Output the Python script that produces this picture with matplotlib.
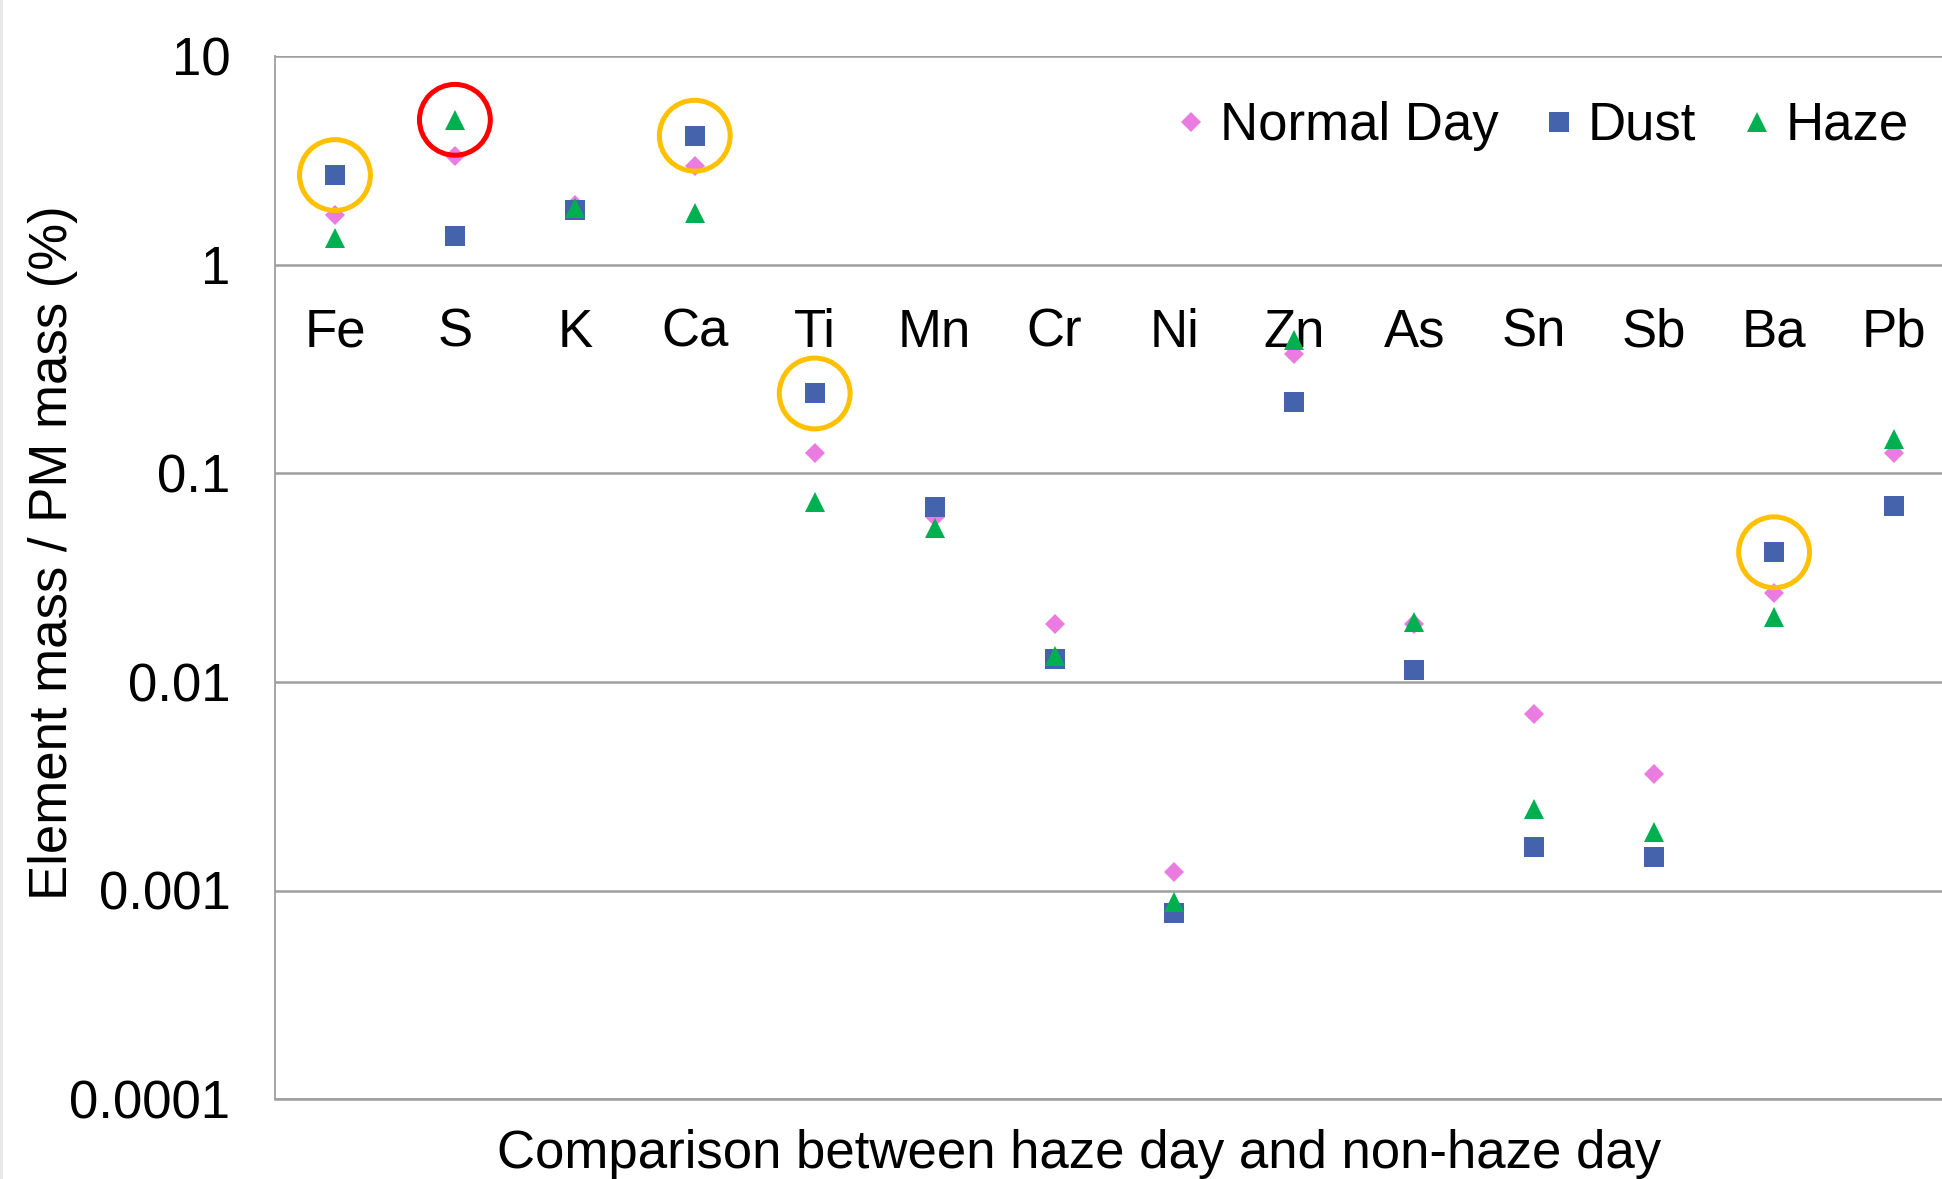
import numpy as np
import matplotlib
matplotlib.use("Agg")
from matplotlib import pyplot as plt
from matplotlib.ticker import FixedLocator, FuncFormatter, NullLocator

plt.rcParams['font.family'] = ['Liberation Sans', 'DejaVu Sans']

# element mass / PM mass (%)
elements = ['Fe', 'S', 'K', 'Ca', 'Ti', 'Mn', 'Cr', 'Ni', 'Zn', 'As', 'Sn', 'Sb', 'Ba', 'Pb']
normal_day = [1.74, 3.34, 1.95, 2.98, 0.126, 0.062, 0.0190, 0.00122, 0.375, 0.0190, 0.00701, 0.00361, 0.0266, 0.125]
dust = [2.70, 1.37, 1.83, 4.17, 0.242, 0.0692, 0.01285, 0.000783, 0.220, 0.01140, 0.00161, 0.00145, 0.0419, 0.070]
haze = [1.35, 4.97, 1.88, 1.78, 0.0734, 0.0549, 0.01327, 0.000885, 0.436, 0.0193, 0.00247, 0.00191, 0.0206, 0.147]

# highlighted points: (element, series)
highlight_orange = [('Fe', 'dust'), ('Ca', 'dust'), ('Ti', 'dust'), ('Ba', 'dust')]
highlight_red = [('S', 'haze')]

y_ticks = [0.0001, 0.001, 0.01, 0.1, 1, 10]

COL_NORMAL = '#EA7BE0'
COL_DUST = '#4563AC'
COL_HAZE = '#00B050'
GRID = '#9E9E9E'
FS = 38


def _series(name):
    return {'normal': normal_day, 'dust': dust, 'haze': haze}[name]


def main():
    fig = plt.figure(figsize=(19.42, 11.79), dpi=100)
    ax = fig.add_axes([275 / 1942, 80 / 1179, 1679 / 1942, 1042.5 / 1179])

    x = np.arange(len(elements)) + 0.5
    ax.plot(x, normal_day, linestyle='none', marker='D', ms=10.6, mew=0, color=COL_NORMAL, label='Normal Day', zorder=3)
    ax.plot(x, dust, linestyle='none', marker='s', ms=14.8, mew=0, color=COL_DUST, label='Dust', zorder=4)
    ax.plot(x, haze, linestyle='none', marker='^', ms=14.8, mew=0, color=COL_HAZE, label='Haze', zorder=5)

    # rings around the points of interest
    for marks, col in ((highlight_orange, '#FFC000'), (highlight_red, '#FF0000')):
        xs = [x[elements.index(e)] for e, s in marks]
        ys = [_series(s)[elements.index(e)] for e, s in marks]
        ax.scatter(xs, ys, s=51 ** 2, facecolors='none', edgecolors=col, linewidths=3.6, zorder=6)

    ax.set_yscale('log')
    ax.set_ylim(1e-4, 10)
    ax.set_xlim(0, len(elements))
    ax.yaxis.set_major_locator(FixedLocator(y_ticks))
    ax.yaxis.set_minor_locator(NullLocator())
    ax.yaxis.set_major_formatter(FuncFormatter(lambda v, p: '{:g}'.format(v)))
    ax.set_xticks([])
    ax.tick_params(axis='y', length=0, pad=32, labelsize=FS)
    ax.grid(axis='y', color=GRID, linewidth=1.8)
    ax.set_axisbelow(True)
    for side in ('top', 'right'):
        ax.spines[side].set_visible(False)
    ax.spines['left'].set_color(GRID)
    ax.spines['left'].set_linewidth(1.3)
    ax.spines['bottom'].set_color(GRID)
    ax.spines['bottom'].set_linewidth(1.8)

    # category labels sit under the y=1 line, like the Excel axis crossing
    for xi, name in zip(x, elements):
        ax.annotate(name, xy=(xi, 1), xytext=(0, -59), textcoords='offset points',
                    ha='center', va='baseline', fontsize=FS, zorder=2)

    fig.text(53 / 1942, 1 - 553 / 1179, 'Element mass / PM mass (%)', rotation=90,
             ha='center', va='center', fontsize=FS)
    fig.text(1079 / 1942, 11 / 1179, 'Comparison between haze day and non-haze day',
             ha='center', va='baseline', fontsize=FS)

    ax.legend(loc='center left', bbox_to_anchor=(1180 / 1942, 1 - 126 / 1179), bbox_transform=fig.transFigure,
              ncol=3, frameon=False, fontsize=FS, handlelength=0.4, handletextpad=0.35,
              columnspacing=0.95, borderpad=0, borderaxespad=0, numpoints=1)

    # light border strip at the far left of the screenshot
    fig.add_artist(plt.Line2D([1 / 1942, 1 / 1942], [0, 1], color='#E8E8E8', linewidth=3,
                              transform=fig.transFigure))

    fig.savefig('out.png', dpi=100)


if __name__ == "__main__":
    main()
